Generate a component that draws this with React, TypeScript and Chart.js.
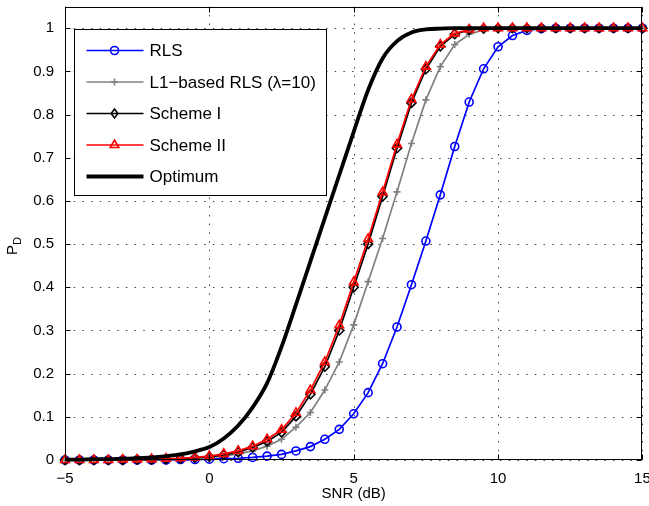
import React, { useEffect, useRef } from 'react';
import { Chart, registerables } from 'chart.js';

Chart.register(...registerables);

const snr = [-5, -4.5, -4, -3.5, -3, -2.5, -2, -1.5, -1, -0.5, 0, 0.5, 1, 1.5, 2, 2.5, 3, 3.5, 4, 4.5, 5, 5.5, 6, 6.5, 7, 7.5, 8, 8.5, 9, 9.5, 10, 10.5, 11, 11.5, 12, 12.5, 13, 13.5, 14, 14.5, 15];

const rls = [0, 0, 0, 0, 0, 0, 0, 0, 0.001, 0.001,
  0.002, 0.003, 0.004, 0.006, 0.009, 0.013, 0.021, 0.031, 0.048, 0.071,
  0.107, 0.156, 0.223, 0.308, 0.406, 0.507, 0.614, 0.726, 0.829, 0.906,
  0.957, 0.983, 0.995, 0.999, 1, 1, 1, 1, 1, 1, 1];

const l1Rls = [0, 0, 0, 0, 0, 0, 0, 0.001, 0.002, 0.004,
  0.006, 0.009, 0.014, 0.021, 0.032, 0.048, 0.076, 0.110, 0.162, 0.227,
  0.313, 0.413, 0.513, 0.621, 0.733, 0.834, 0.911, 0.962, 0.986, 0.996,
  0.999, 1, 1, 1, 1, 1, 1, 1, 1, 1, 1];

const schemeI = [0, 0, 0, 0, 0, 0.001, 0.001, 0.002, 0.003, 0.005,
  0.007, 0.012, 0.018, 0.029, 0.043, 0.064, 0.101, 0.152, 0.216, 0.300,
  0.400, 0.500, 0.610, 0.722, 0.827, 0.905, 0.958, 0.986, 0.996, 0.999,
  1, 1, 1, 1, 1, 1, 1, 1, 1, 1, 1];

const schemeII = [0, 0, 0, 0, 0.001, 0.001, 0.002, 0.003, 0.004, 0.006,
  0.009, 0.014, 0.021, 0.032, 0.048, 0.070, 0.109, 0.162, 0.227, 0.312,
  0.412, 0.512, 0.620, 0.731, 0.835, 0.911, 0.962, 0.988, 0.997, 1,
  1, 1, 1, 1, 1, 1, 1, 1, 1, 1, 1];

const optimum = [0.001, 0.001, 0.002, 0.002, 0.003, 0.004, 0.006, 0.009, 0.013, 0.020,
  0.030, 0.050, 0.080, 0.122, 0.178, 0.262, 0.360, 0.460, 0.560, 0.660,
  0.760, 0.857, 0.930, 0.970, 0.990, 0.997, 0.999, 1, 1, 1,
  1, 1, 1, 1, 1, 1, 1, 1, 1, 1, 1];

const xTicks = [-5, 0, 5, 10, 15];
const xTickLabels = ['\u22125', '0', '5', '10', '15'];
const yTicks = [0, 0.1, 0.2, 0.3, 0.4, 0.5, 0.6, 0.7, 0.8, 0.9, 1];
const yTickLabels = ['0', '0.1', '0.2', '0.3', '0.4', '0.5', '0.6', '0.7', '0.8', '0.9', '1'];
const seriesNames = ['RLS', 'L1\u2212based RLS (\u03bb=10)', 'Scheme I', 'Scheme II', 'Optimum'];
const xTitle = 'SNR (dB)';

const FONT = '"Liberation Sans", Arial, Helvetica, sans-serif';

type Style = { color: string; marker: string; width: number; radius: number };
const styles: Style[] = [
  { color: '#0000ff', marker: 'circle', width: 1.7, radius: 4 },
  { color: '#808080', marker: 'cross', width: 1.7, radius: 3.5 },
  { color: '#000000', marker: 'rectRot', width: 1.7, radius: 4.5 },
  { color: '#ff0000', marker: 'triangle', width: 1.7, radius: 5 },
  { color: '#000000', marker: 'none', width: 3.8, radius: 0 },
];

function drawMarker(ctx: CanvasRenderingContext2D, kind: string, x: number, y: number, r: number, color: string) {
  ctx.save();
  ctx.strokeStyle = color;
  ctx.lineWidth = 1.6;
  ctx.beginPath();
  if (kind === 'circle') {
    ctx.arc(x, y, r, 0, Math.PI * 2);
  } else if (kind === 'cross') {
    ctx.moveTo(x - r, y); ctx.lineTo(x + r, y);
    ctx.moveTo(x, y - r); ctx.lineTo(x, y + r);
  } else if (kind === 'rectRot') {
    ctx.moveTo(x, y - r); ctx.lineTo(x + r * 0.75, y); ctx.lineTo(x, y + r); ctx.lineTo(x - r * 0.75, y); ctx.closePath();
  } else if (kind === 'triangle') {
    ctx.moveTo(x, y - r); ctx.lineTo(x + r * 0.866, y + r * 0.5); ctx.lineTo(x - r * 0.866, y + r * 0.5); ctx.closePath();
  }
  ctx.stroke();
  ctx.restore();
}

const gridPlugin = {
  id: 'matlabGrid',
  beforeDatasetsDraw(chart: any) {
    const { ctx, chartArea: a, scales } = chart;
    ctx.save();
    ctx.strokeStyle = 'rgba(0,0,0,0.75)';
    ctx.lineWidth = 1;
    ctx.setLineDash([1.5, 7.2]);
    xTicks.forEach((v) => {
      const px = Math.round(scales.x.getPixelForValue(v)) + 0.5;
      ctx.beginPath(); ctx.moveTo(px, a.bottom); ctx.lineTo(px, a.top); ctx.stroke();
    });
    yTicks.forEach((v) => {
      const py = Math.round(scales.y.getPixelForValue(v)) + 0.5;
      ctx.beginPath(); ctx.moveTo(a.left, py); ctx.lineTo(a.right, py); ctx.stroke();
    });
    ctx.restore();
  },
  afterDatasetsDraw(chart: any) {
    const { ctx, chartArea: a, scales } = chart;
    ctx.save();
    ctx.strokeStyle = '#000';
    ctx.lineWidth = 1;
    const l = Math.round(a.left) + 0.5, t = Math.round(a.top) + 0.5;
    const r = Math.round(a.right) - 0.5, b = Math.round(a.bottom) - 0.5;
    ctx.strokeRect(l, t, r - l, b - t);
    const tl = 5;
    xTicks.forEach((v) => {
      const px = Math.round(scales.x.getPixelForValue(v)) + 0.5;
      ctx.beginPath();
      ctx.moveTo(px, b); ctx.lineTo(px, b - tl);
      ctx.moveTo(px, t); ctx.lineTo(px, t + tl);
      ctx.stroke();
    });
    yTicks.forEach((v) => {
      const py = Math.round(scales.y.getPixelForValue(v)) + 0.5;
      ctx.beginPath();
      ctx.moveTo(l, py); ctx.lineTo(l + tl, py);
      ctx.moveTo(r, py); ctx.lineTo(r - tl, py);
      ctx.stroke();
    });

    // legend
    const lx = Math.round(a.left) + 9.5, ly = Math.round(a.top) + 22.5;
    const lw = 252, lh = 166;
    ctx.fillStyle = '#fff';
    ctx.fillRect(lx, ly, lw, lh);
    ctx.strokeRect(lx, ly, lw, lh);
    ctx.font = '17px ' + FONT;
    ctx.textBaseline = 'middle';
    ctx.textAlign = 'left';
    seriesNames.forEach((name, i) => {
      const st = styles[i];
      const y = ly + 21 + i * 31.5;
      ctx.save();
      ctx.strokeStyle = st.color;
      ctx.lineWidth = st.width;
      ctx.beginPath(); ctx.moveTo(lx + 12, y); ctx.lineTo(lx + 69, y); ctx.stroke();
      ctx.restore();
      if (st.marker !== 'none') drawMarker(ctx, st.marker, lx + 40, y, st.radius, st.color);
      ctx.fillStyle = '#000';
      ctx.fillText(name, lx + 75, y + 1);
    });

    // y-axis title P_D
    ctx.save();
    ctx.translate(13, 248);
    ctx.rotate(-Math.PI / 2);
    ctx.fillStyle = '#000';
    ctx.textBaseline = 'middle';
    ctx.textAlign = 'left';
    ctx.font = '15px ' + FONT;
    const pw = ctx.measureText('P').width;
    ctx.fillText('P', -7, 0);
    ctx.font = '11px ' + FONT;
    ctx.fillText('D', -7 + pw, 5);
    ctx.restore();

    ctx.restore();
  },
};

export default function App() {
  const ref = useRef<HTMLCanvasElement | null>(null);
  useEffect(() => {
    document.body.style.margin = '0';
    const canvas = ref.current;
    if (!canvas) return;
    const series = [rls, l1Rls, schemeI, schemeII, optimum];
    const datasets = series.map((vals, i) => {
      const st = styles[i];
      return {
        label: seriesNames[i],
        data: snr.map((x, k) => ({ x, y: vals[k] })),
        borderColor: st.color,
        borderWidth: st.width,
        pointStyle: st.marker === 'none' ? false : st.marker,
        pointRadius: st.radius,
        pointBorderWidth: 1.6,
        pointBorderColor: st.color,
        pointBackgroundColor: 'rgba(0,0,0,0)',
        fill: false,
        tension: 0,
        cubicInterpolationMode: i === 4 ? 'monotone' : 'default',
        clip: false,
        order: 5 - i,
      };
    });
    const chart = new Chart(canvas, {
      type: 'line',
      data: { datasets } as any,
      options: {
        animation: false,
        responsive: false,
        devicePixelRatio: 1,
        layout: { padding: { left: 0, right: 6, top: 5, bottom: 0 } },
        plugins: { legend: { display: false }, tooltip: { enabled: false } },
        scales: {
          x: {
            type: 'linear',
            min: -5,
            max: 15,
            afterBuildTicks: (s: any) => { s.ticks = xTicks.map((v) => ({ value: v })); },
            afterFit: (s: any) => { s.height = 46; s.paddingLeft = 0; s.paddingRight = 0; },
            grid: { display: false },
            border: { display: false },
            ticks: {
              autoSkip: false,
              maxRotation: 0,
              padding: 2,
              color: '#000',
              font: { family: FONT, size: 15 },
              callback: (_v: any, idx: number) => xTickLabels[idx],
            },
            title: {
              display: true,
              text: xTitle,
              color: '#000',
              font: { family: FONT, size: 15 },
              padding: { top: 0, bottom: 3 },
            },
          },
          y: {
            type: 'linear',
            min: 0,
            max: 1.05,
            afterBuildTicks: (s: any) => { s.ticks = yTicks.map((v) => ({ value: v })); },
            afterFit: (s: any) => { s.width = 65; s.paddingTop = 0; s.paddingBottom = 0; },
            grid: { display: false },
            border: { display: false },
            ticks: {
              autoSkip: false,
              padding: 3,
              color: '#000',
              font: { family: FONT, size: 15 },
              callback: (_v: any, idx: number) => yTickLabels[idx],
            },
          },
        },
      } as any,
      plugins: [gridPlugin],
    });
    return () => chart.destroy();
  }, []);
  return (
    <div style={{ width: 649, height: 506, background: '#fff' }}>
      <canvas ref={ref} width={649} height={506} style={{ display: 'block' }} />
    </div>
  );
}
